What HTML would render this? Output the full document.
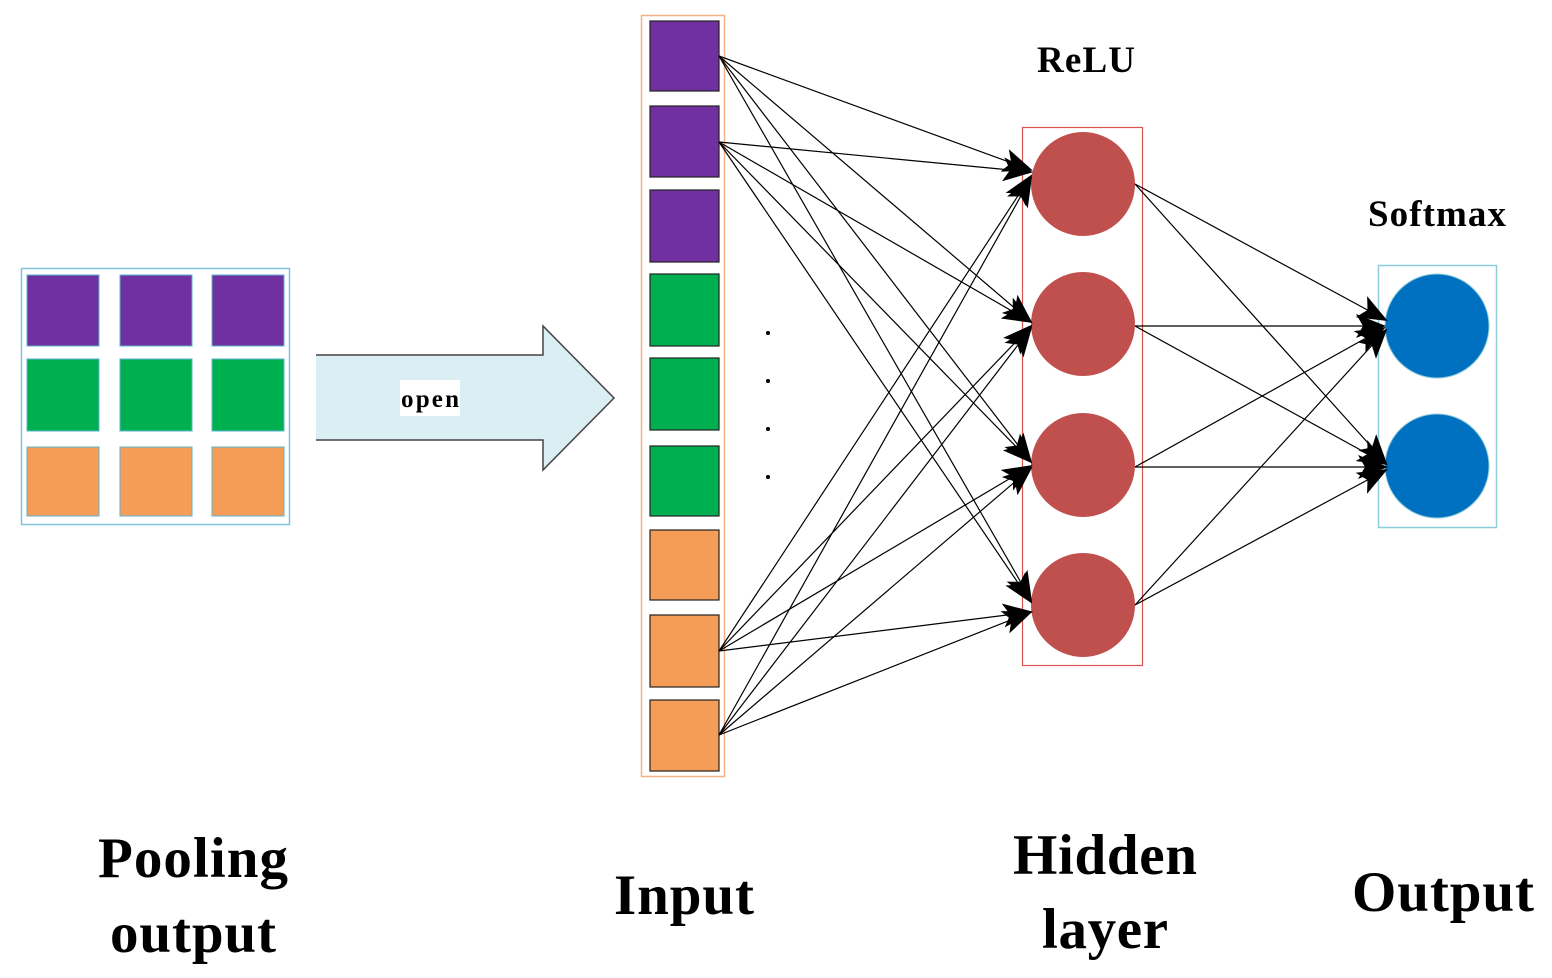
<!DOCTYPE html>
<html><head><style>body{margin:0;background:#fff}svg{display:block}</style></head><body>
<svg width="1552" height="978" viewBox="0 0 1552 978" xmlns="http://www.w3.org/2000/svg" font-family="Liberation Serif, serif" font-weight="bold">
<defs><marker id="a" markerWidth="30" markerHeight="24" refX="28" refY="12" orient="auto" markerUnits="userSpaceOnUse"><path d="M0,0 L30,12 L0,24 L7,12 Z" fill="#000"/></marker></defs>
<rect x="21.5" y="268.5" width="268" height="256" fill="#fff" stroke="#7fc4d8" stroke-width="1.5"/>
<g stroke="#5bb3d0" stroke-width="1">
<rect x="27" y="275" width="72" height="71" fill="#7030a0"/><rect x="120" y="275" width="72" height="71" fill="#7030a0"/><rect x="212" y="275" width="72" height="71" fill="#7030a0"/>
<rect x="27" y="359" width="72" height="72" fill="#00b050"/><rect x="120" y="359" width="72" height="72" fill="#00b050"/><rect x="212" y="359" width="72" height="72" fill="#00b050"/>
<rect x="27" y="447" width="72" height="69" fill="#f59d56"/><rect x="120" y="447" width="72" height="69" fill="#f59d56"/><rect x="212" y="447" width="72" height="69" fill="#f59d56"/>
</g>
<path d="M316,355 L543,355 L543,326 L614,398 L543,470 L543,440 L316,440" fill="#daeef3" stroke="#444" stroke-width="1.5"/>
<rect x="400" y="380" width="60" height="36" fill="#fff"/>
<text x="430" y="407" font-size="25" text-anchor="middle" textLength="58">open</text>
<rect x="641.5" y="15.5" width="83" height="761" fill="#fff" stroke="#f4b183" stroke-width="1.5"/>
<g stroke="#222" stroke-width="1.2">
<rect x="650" y="21" width="69" height="70" fill="#7030a0"/><rect x="650" y="106" width="69" height="71" fill="#7030a0"/><rect x="650" y="190" width="69" height="72" fill="#7030a0"/>
<rect x="650" y="274" width="69" height="72" fill="#00b050"/><rect x="650" y="358" width="69" height="72" fill="#00b050"/><rect x="650" y="446" width="69" height="70" fill="#00b050"/>
<rect x="650" y="530" width="69" height="70" fill="#f59d56"/><rect x="650" y="615" width="69" height="72" fill="#f59d56"/><rect x="650" y="700" width="69" height="71" fill="#f59d56"/>
</g>
<g fill="#000"><circle cx="768" cy="333" r="2"/><circle cx="768" cy="381" r="2"/><circle cx="768" cy="429" r="2"/><circle cx="768" cy="477" r="2"/></g>
<rect x="1022.5" y="127.5" width="120" height="538" fill="none" stroke="#d9534f" stroke-width="1.2"/>
<g fill="#c0504d"><circle cx="1083" cy="184" r="52"/><circle cx="1083" cy="324" r="52"/><circle cx="1083" cy="465" r="52"/><circle cx="1083" cy="605" r="52"/></g>
<rect x="1378.5" y="265.5" width="118" height="262" fill="none" stroke="#8ecbdb" stroke-width="1.5"/>
<g fill="#0070c0" stroke="#8ecbdb"><circle cx="1437" cy="326" r="52"/><circle cx="1437" cy="466" r="52"/></g>
<g stroke="#000" stroke-width="1.2" marker-end="url(#a)">
<line x1="719" y1="56" x2="1031" y2="170"/><line x1="719" y1="56" x2="1031" y2="322"/><line x1="719" y1="56" x2="1031" y2="462"/><line x1="719" y1="56" x2="1031" y2="600"/>
<line x1="719" y1="142" x2="1031" y2="172"/><line x1="719" y1="142" x2="1031" y2="322"/><line x1="719" y1="142" x2="1031" y2="462"/><line x1="719" y1="142" x2="1031" y2="602"/>
<line x1="719" y1="651" x2="1031" y2="176"/><line x1="719" y1="651" x2="1031" y2="326"/><line x1="719" y1="651" x2="1031" y2="466"/><line x1="719" y1="651" x2="1031" y2="612"/>
<line x1="719" y1="735" x2="1031" y2="178"/><line x1="719" y1="735" x2="1031" y2="328"/><line x1="719" y1="735" x2="1031" y2="468"/><line x1="719" y1="735" x2="1031" y2="612"/>
<line x1="1135" y1="184" x2="1386" y2="320"/><line x1="1135" y1="184" x2="1386" y2="463"/>
<line x1="1135" y1="326" x2="1384" y2="326"/><line x1="1135" y1="326" x2="1386" y2="464"/>
<line x1="1135" y1="467" x2="1384" y2="328"/><line x1="1135" y1="467" x2="1386" y2="467"/>
<line x1="1135" y1="605" x2="1386" y2="330"/><line x1="1135" y1="605" x2="1386" y2="470"/>
</g>
<text x="1086" y="72" font-size="37" text-anchor="middle" textLength="98">ReLU</text>
<text x="1437" y="226" font-size="37" text-anchor="middle" textLength="138">Softmax</text>
<g font-size="57" text-anchor="middle">
<text x="193" y="877" textLength="190">Pooling</text><text x="193" y="952" textLength="166">output</text>
<text x="684" y="914" textLength="140">Input</text>
<text x="1105" y="874" textLength="184">Hidden</text><text x="1105" y="948" textLength="126">layer</text>
<text x="1443" y="911" textLength="182">Output</text>
</g>
</svg>
</body></html>
